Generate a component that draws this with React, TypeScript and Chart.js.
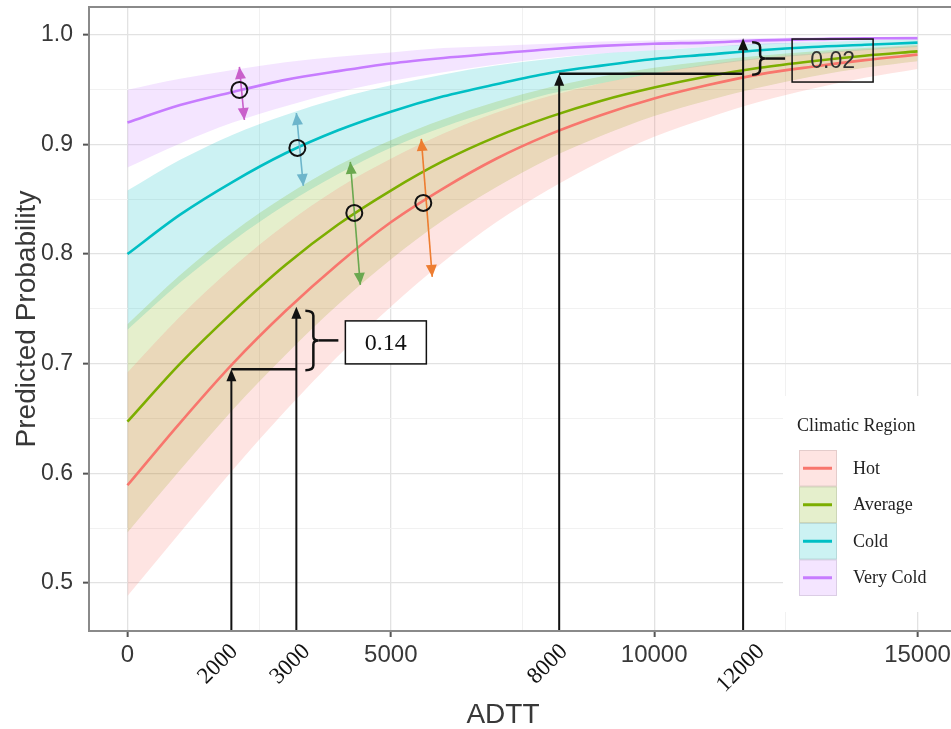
import React, { useEffect, useRef } from 'react';
import { Chart, registerables } from 'chart.js';

Chart.register(...registerables);

// ---------- data ----------
const adtt = [0, 1000, 2000, 3000, 4000, 5000, 6000, 7000, 8000, 9000, 10000, 11000, 12000, 13000, 14000, 15000];

const hotFit = [0.589, 0.646, 0.700, 0.748, 0.791, 0.829, 0.860, 0.887, 0.909, 0.927, 0.942, 0.954, 0.964, 0.971, 0.977, 0.982];
const hotLow = [0.488, 0.546, 0.603, 0.657, 0.707, 0.752, 0.793, 0.829, 0.859, 0.885, 0.907, 0.924, 0.939, 0.951, 0.961, 0.969];
const hotHigh = [0.692, 0.743, 0.788, 0.827, 0.860, 0.887, 0.910, 0.929, 0.944, 0.956, 0.965, 0.973, 0.979, 0.983, 0.987, 0.990];

const avgFit = [0.647, 0.700, 0.747, 0.790, 0.827, 0.858, 0.885, 0.907, 0.925, 0.940, 0.952, 0.962, 0.970, 0.976, 0.981, 0.985];
const avgLow = [0.546, 0.603, 0.658, 0.708, 0.754, 0.795, 0.831, 0.861, 0.887, 0.908, 0.926, 0.940, 0.952, 0.962, 0.970, 0.976];
const avgHigh = [0.736, 0.781, 0.820, 0.853, 0.881, 0.904, 0.923, 0.939, 0.952, 0.962, 0.970, 0.976, 0.981, 0.985, 0.988, 0.991];

const coldFit = [0.800, 0.836, 0.866, 0.892, 0.913, 0.930, 0.944, 0.955, 0.965, 0.972, 0.978, 0.982, 0.986, 0.989, 0.991, 0.993];
const coldLow = [0.731, 0.774, 0.812, 0.845, 0.873, 0.897, 0.916, 0.932, 0.946, 0.956, 0.965, 0.972, 0.978, 0.982, 0.986, 0.989];
const coldHigh = [0.858, 0.886, 0.909, 0.927, 0.942, 0.954, 0.964, 0.972, 0.978, 0.983, 0.986, 0.989, 0.992, 0.993, 0.995, 0.996];

const vcoldFit = [0.920, 0.936, 0.948, 0.959, 0.967, 0.974, 0.979, 0.983, 0.987, 0.990, 0.992, 0.993, 0.995, 0.996, 0.997, 0.997];
const vcoldLow = [0.879, 0.901, 0.920, 0.935, 0.948, 0.958, 0.966, 0.973, 0.979, 0.983, 0.986, 0.989, 0.991, 0.993, 0.995, 0.996];
const vcoldHigh = [0.950, 0.960, 0.968, 0.975, 0.980, 0.984, 0.988, 0.990, 0.992, 0.994, 0.995, 0.996, 0.997, 0.998, 0.998, 0.999];

const regionNames = ['Hot', 'Average', 'Cold', 'Very Cold'];
const regionColors = ['#F8766D', '#7CAE00', '#00BFC4', '#C77CFF'];
const fits = [hotFit, avgFit, coldFit, vcoldFit];
const lows = [hotLow, avgLow, coldLow, vcoldLow];
const highs = [hotHigh, avgHigh, coldHigh, vcoldHigh];

const xGridTicks = [0, 2500, 5000, 7500, 10000, 12500, 15000];
const yGridTicks = [0.5, 0.55, 0.6, 0.65, 0.7, 0.75, 0.8, 0.85, 0.9, 0.95, 1.0];

// extra rotated labels under the axis and where they sit
const highlightTicks = [2000, 3000, 8000, 12000];
const highlightLabelAt = [2030, 3400, 8290, 12030];

// black reference arrows (x pairs and y pairs), and the difference labels
const refArrowX = [[1973, 3207], [8197, 11689]];
const refArrowY = [[0.695, 0.752], [0.9645, 0.997]];
const diffLabels = ['0.14', '0.02'];

// circled points with coloured double arrows
const markerX = [2125, 3226, 4307, 5617];
const markerY = [0.9498, 0.8969, 0.8376, 0.8467];
const rangeTopX = [2125, 3207, 4231, 5579];
const rangeTopY = [0.9708, 0.9288, 0.8841, 0.9051];
const rangeBotX = [2220, 3340, 4421, 5787];
const rangeBotY = [0.9224, 0.8622, 0.7719, 0.7792];
const rangeColors = ['#C95FCB', '#6DB5CB', '#6AA84F', '#ED7D31'];

// ---------- styling ----------
const SANS = '"Liberation Sans", Arial, sans-serif';
const SERIF = '"Liberation Serif", "Times New Roman", serif';
const BAND_ALPHA = 0.2;

function rgba(hex: string, a: number) {
  const n = parseInt(hex.slice(1), 16);
  return `rgba(${(n >> 16) & 255},${(n >> 8) & 255},${n & 255},${a})`;
}
const isMajorX = (v: number) => Math.abs(v / 5000 - Math.round(v / 5000)) < 1e-9;
const isMajorY = (v: number) => Math.abs(v * 10 - Math.round(v * 10)) < 1e-6;

function head(ctx: CanvasRenderingContext2D, tx: number, ty: number, fx: number, fy: number, len: number, half: number) {
  const dx = tx - fx, dy = ty - fy;
  const d = Math.hypot(dx, dy) || 1;
  const ux = dx / d, uy = dy / d;
  const bx = tx - ux * len, by = ty - uy * len;
  ctx.beginPath();
  ctx.moveTo(tx, ty);
  ctx.lineTo(bx - uy * half, by + ux * half);
  ctx.lineTo(bx + uy * half, by - ux * half);
  ctx.closePath();
  ctx.fill();
}

const decorPlugin = {
  id: 'decor',
  afterDatasetsDraw(chart: any) {
    const { ctx, chartArea: ca, scales } = chart;
    const X = (v: number) => scales.x.getPixelForValue(v);
    const Y = (v: number) => scales.y.getPixelForValue(v);
    ctx.save();

    // black reference arrows with brackets and boxes
    for (let k = 0; k < refArrowX.length; k++) {
      const xa = X(refArrowX[k][0]), xb = X(refArrowX[k][1]);
      const ya = Y(refArrowY[k][0]), yb = Y(refArrowY[k][1]);
      ctx.strokeStyle = '#111';
      ctx.fillStyle = '#111';
      ctx.lineWidth = 2;
      ctx.beginPath();
      ctx.moveTo(xa, ca.bottom); ctx.lineTo(xa, ya + 8);
      ctx.moveTo(xb, ca.bottom); ctx.lineTo(xb, yb + 8);
      ctx.stroke();
      head(ctx, xa, ya, xa, ya + 20, 12, 5);
      head(ctx, xb, yb, xb, yb + 20, 12, 5);
      ctx.lineWidth = 2.5;
      ctx.beginPath();
      ctx.moveTo(xa, ya); ctx.lineTo(xb, ya);
      ctx.stroke();

      const top = yb + 4, bot = ya + 1, mid = (top + bot) / 2;
      const b0 = xb + 9, bv = xb + 17, bp = xb + 22;
      ctx.lineWidth = 2.5;
      ctx.beginPath();
      ctx.moveTo(b0, top);
      ctx.quadraticCurveTo(bv, top, bv, top + 5);
      ctx.lineTo(bv, mid - 4);
      ctx.quadraticCurveTo(bv, mid, bp, mid);
      ctx.quadraticCurveTo(bv, mid, bv, mid + 4);
      ctx.lineTo(bv, bot - 5);
      ctx.quadraticCurveTo(bv, bot, b0, bot);
      ctx.stroke();
      ctx.beginPath();
      ctx.moveTo(bp, mid); ctx.lineTo(xb + 42, mid);
      ctx.stroke();

      const bx = xb + 49, bw = 81, bh = 43;
      const bc = mid + 2;
      if (k === 0) {
        ctx.fillStyle = '#ffffff';
        ctx.fillRect(bx, bc - bh / 2, bw, bh);
      }
      ctx.lineWidth = 1.5;
      ctx.strokeStyle = '#111';
      ctx.strokeRect(bx, bc - bh / 2, bw, bh);
      ctx.fillStyle = k === 0 ? '#111' : '#333';
      ctx.font = k === 0 ? `24px ${SERIF}` : `23px ${SANS}`;
      ctx.textAlign = 'center';
      ctx.textBaseline = 'middle';
      ctx.fillText(diffLabels[k], bx + bw / 2, bc + 1);
    }

    // coloured double arrows and circles
    for (let k = 0; k < markerX.length; k++) {
      const tx = X(rangeTopX[k]), ty = Y(rangeTopY[k]);
      const bx = X(rangeBotX[k]), by = Y(rangeBotY[k]);
      ctx.strokeStyle = rangeColors[k];
      ctx.fillStyle = rangeColors[k];
      ctx.lineWidth = 1.6;
      ctx.beginPath();
      ctx.moveTo(tx, ty); ctx.lineTo(bx, by);
      ctx.stroke();
      head(ctx, tx, ty, bx, by, 12, 5.5);
      head(ctx, bx, by, tx, ty, 12, 5.5);
      ctx.strokeStyle = '#111';
      ctx.lineWidth = 2;
      ctx.beginPath();
      ctx.arc(X(markerX[k]), Y(markerY[k]), 8, 0, Math.PI * 2);
      ctx.stroke();
    }
    ctx.restore();
  },
  afterDraw(chart: any) {
    const { ctx, chartArea: ca, scales } = chart;
    const X = (v: number) => scales.x.getPixelForValue(v);
    ctx.save();

    // panel border
    ctx.strokeStyle = '#8a8a8a';
    ctx.lineWidth = 2;
    ctx.strokeRect(ca.left, ca.top, ca.right - ca.left + 10, ca.bottom - ca.top);

    // axis titles
    ctx.fillStyle = '#383838';
    ctx.font = `28px ${SANS}`;
    ctx.textAlign = 'center';
    ctx.textBaseline = 'alphabetic';
    ctx.fillText('ADTT', 503, 723);
    ctx.save();
    ctx.translate(35, (ca.top + ca.bottom) / 2);
    ctx.rotate(-Math.PI / 2);
    ctx.fillText('Predicted Probability', 0, 0);
    ctx.restore();

    // rotated highlight labels
    ctx.fillStyle = '#111';
    ctx.font = `23px ${SERIF}`;
    ctx.textAlign = 'right';
    ctx.textBaseline = 'middle';
    highlightTicks.forEach((t, k) => {
      ctx.save();
      ctx.translate(X(highlightLabelAt[k]), ca.bottom + 17);
      ctx.rotate(-Math.PI / 4);
      ctx.fillText(String(t), 0, 0);
      ctx.restore();
    });

    // legend
    const lx = 783, ly = 396;
    ctx.fillStyle = '#ffffff';
    ctx.fillRect(lx, ly, 951 - lx, 612 - ly);
    ctx.fillStyle = '#222';
    ctx.font = `18px ${SERIF}`;
    ctx.textAlign = 'left';
    ctx.textBaseline = 'alphabetic';
    ctx.fillText('Climatic Region', 797, 431);
    const kh = 36.5;
    regionNames.forEach((name, i) => {
      const ky = 450 + i * kh;
      ctx.fillStyle = rgba(regionColors[i], BAND_ALPHA);
      ctx.fillRect(799, ky, 38, kh);
      ctx.strokeStyle = 'rgba(0,0,0,0.10)';
      ctx.lineWidth = 1;
      ctx.strokeRect(799.5, ky + 0.5, 37, kh - 1);
      ctx.strokeStyle = regionColors[i];
      ctx.lineWidth = 3;
      ctx.beginPath();
      ctx.moveTo(803, ky + kh / 2); ctx.lineTo(832, ky + kh / 2);
      ctx.stroke();
      ctx.fillStyle = '#222';
      ctx.font = `18px ${SERIF}`;
      ctx.textBaseline = 'middle';
      ctx.fillText(name, 853, ky + kh / 2 + 1);
    });
    ctx.restore();
  },
};

export default function App() {
  const ref = useRef<HTMLCanvasElement>(null);

  useEffect(() => {
    const canvas = ref.current;
    if (!canvas) return;
    const pts = (arr: number[]) => arr.map((y, i) => ({ x: adtt[i], y }));
    const datasets: any[] = [];
    regionNames.forEach((name, i) => {
      datasets.push({
        label: name + ' upper',
        data: pts(highs[i]),
        fill: '+1',
        backgroundColor: rgba(regionColors[i], BAND_ALPHA),
        borderWidth: 0,
        pointRadius: 0,
        order: 2,
      });
      datasets.push({
        label: name + ' lower',
        data: pts(lows[i]),
        fill: false,
        borderWidth: 0,
        pointRadius: 0,
        order: 2,
      });
    });
    regionNames.forEach((name, i) => {
      datasets.push({
        label: name,
        data: pts(fits[i]),
        fill: false,
        borderColor: regionColors[i],
        borderWidth: 2.6,
        pointRadius: 0,
        order: 1,
      });
    });

    const chart = new Chart(canvas, {
      type: 'line',
      data: { datasets },
      options: {
        responsive: false,
        animation: false,
        devicePixelRatio: 1,
        layout: { padding: { top: 7, left: 0, right: 0, bottom: 0 } },
        elements: { line: { cubicInterpolationMode: 'monotone' } },
        plugins: {
          legend: { display: false },
          tooltip: { enabled: false },
          filler: { drawTime: 'beforeDatasetsDraw', propagate: false },
        } as any,
        scales: {
          x: {
            type: 'linear',
            min: -730,
            max: 15636,
            afterBuildTicks: (s: any) => { s.ticks = xGridTicks.map((v) => ({ value: v })); },
            afterFit: (s: any) => { s.height = 98; s.paddingLeft = 0; s.paddingRight = 0; },
            border: { display: false },
            grid: {
              color: (c: any) => (c.tick && isMajorX(c.tick.value) ? '#e2e2e2' : '#f1f1f1'),
              lineWidth: (c: any) => (c.tick && isMajorX(c.tick.value) ? 1.3 : 1),
              tickColor: (c: any) => (c.tick && isMajorX(c.tick.value) ? '#555' : 'rgba(0,0,0,0)'),
              tickLength: 6,
              tickWidth: 2,
            },
            ticks: {
              autoSkip: false,
              maxRotation: 0,
              minRotation: 0,
              padding: 4,
              color: '#383838',
              font: { family: SANS, size: 24 },
              callback: (v: any) => (isMajorX(Number(v)) ? String(v) : ''),
            },
          },
          y: {
            type: 'linear',
            min: 0.456,
            max: 1.0255,
            afterBuildTicks: (s: any) => { s.ticks = yGridTicks.map((v) => ({ value: v })); },
            afterFit: (s: any) => { s.width = 89; s.paddingTop = 0; s.paddingBottom = 0; },
            border: { display: false },
            grid: {
              color: (c: any) => (c.tick && isMajorY(c.tick.value) ? '#e2e2e2' : '#f1f1f1'),
              lineWidth: (c: any) => (c.tick && isMajorY(c.tick.value) ? 1.3 : 1),
              tickColor: (c: any) => (c.tick && isMajorY(c.tick.value) ? '#555' : 'rgba(0,0,0,0)'),
              tickLength: 6,
              tickWidth: 2,
            },
            ticks: {
              autoSkip: false,
              padding: 10,
              color: '#383838',
              font: { family: SANS, size: 23 },
              callback: (v: any) => (isMajorY(Number(v)) ? Number(v).toFixed(1) : ''),
            },
          },
        },
      } as any,
      plugins: [decorPlugin],
    });
    return () => chart.destroy();
  }, []);

  return (
    <div style={{ position: 'absolute', left: 0, top: 0, width: 951, height: 729, background: '#fff' }}>
      <canvas ref={ref} width={951} height={729} style={{ display: 'block' }} />
    </div>
  );
}
